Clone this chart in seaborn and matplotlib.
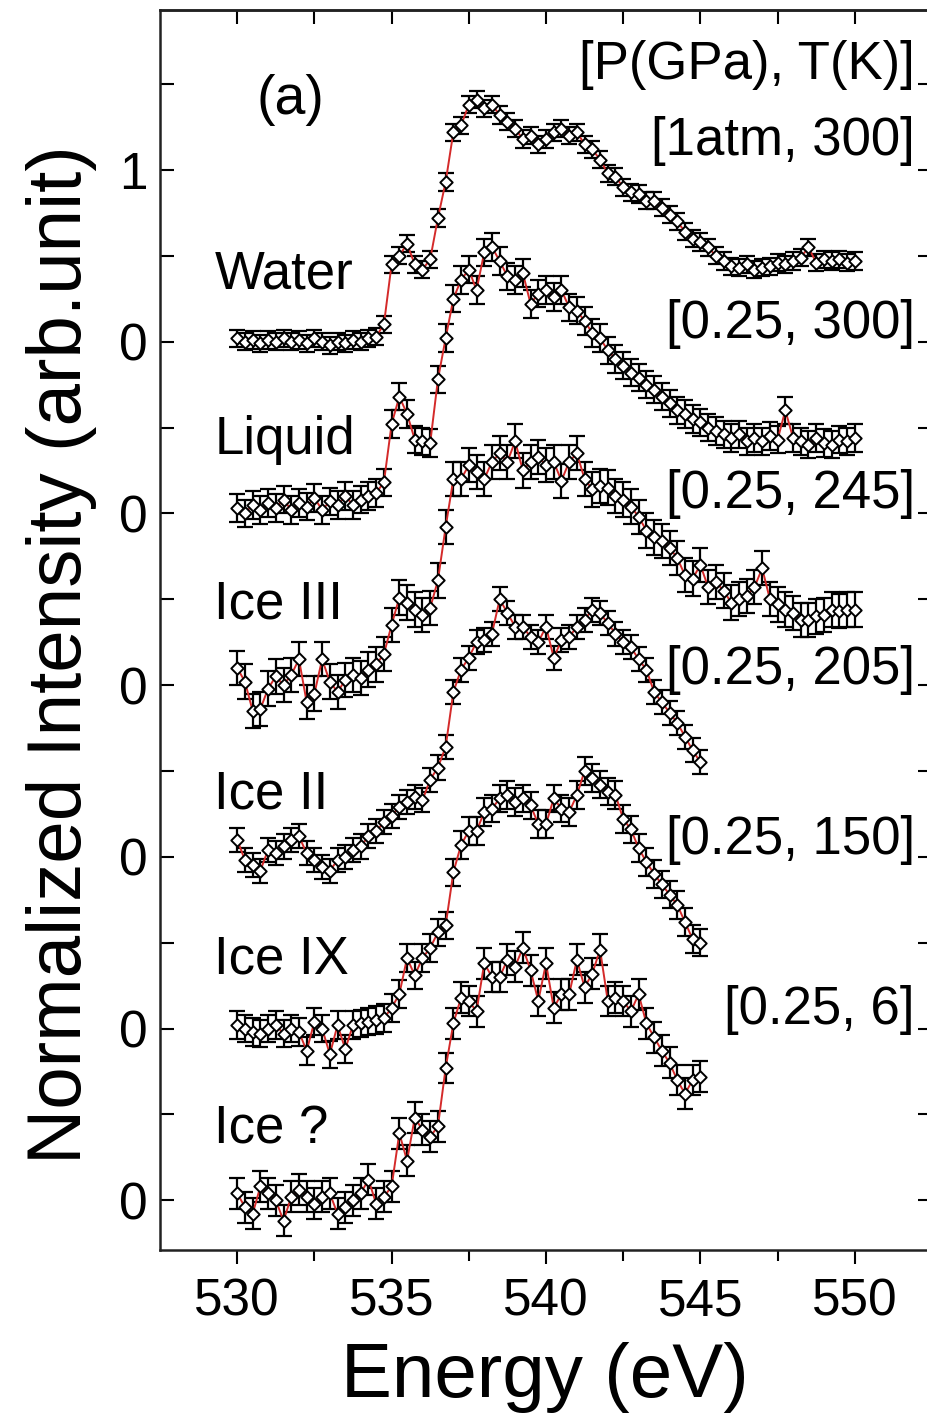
import numpy as np
import pandas as pd
import seaborn as sns
import matplotlib.pyplot as plt

# O K-edge spectra, 0.25 eV steps
energy_long = np.arange(530, 550.01, 0.25)
energy_short = np.arange(530, 545.01, 0.25)

water = [0.02, 0.00, 0.01, -0.01, 0.01, 0.00, 0.02, 0.00, 0.01, -0.01,
         0.02, 0.00, -0.02, 0.00, -0.01, 0.01, 0.00, 0.02, 0.03, 0.10,
         0.45, 0.50, 0.57, 0.45, 0.42, 0.48, 0.72, 0.93, 1.22, 1.26,
         1.38, 1.41, 1.36, 1.38, 1.32, 1.28, 1.24, 1.18, 1.20, 1.15,
         1.18, 1.22, 1.24, 1.20, 1.22, 1.15, 1.12, 1.06, 0.98, 0.96,
         0.90, 0.87, 0.86, 0.82, 0.82, 0.78, 0.74, 0.70, 0.64, 0.60,
         0.58, 0.55, 0.50, 0.47, 0.44, 0.43, 0.45, 0.42, 0.43, 0.44,
         0.46, 0.45, 0.47, 0.49, 0.55, 0.46, 0.48, 0.47, 0.48, 0.46,
         0.47]

liquid = [0.03, 0.00, 0.05, 0.02, 0.06, 0.03, 0.08, 0.02, 0.06, 0.04,
          0.09, 0.02, 0.07, 0.05, 0.10, 0.05, 0.08, 0.10, 0.12, 0.18,
          0.52, 0.68, 0.58, 0.43, 0.42, 0.41, 0.78, 1.02, 1.25, 1.36,
          1.42, 1.30, 1.52, 1.55, 1.47, 1.38, 1.36, 1.40, 1.22, 1.28,
          1.30, 1.26, 1.30, 1.20, 1.18, 1.12, 1.05, 1.02, 0.95, 0.90,
          0.86, 0.82, 0.79, 0.75, 0.72, 0.68, 0.64, 0.60, 0.58, 0.55,
          0.53, 0.50, 0.48, 0.46, 0.44, 0.46, 0.42, 0.44, 0.42, 0.45,
          0.43, 0.60, 0.44, 0.42, 0.40, 0.44, 0.41, 0.40, 0.43, 0.42,
          0.44]

ice_iii = [0.10, 0.02, -0.15, -0.14, -0.02, 0.05, 0.00, 0.06, 0.15, -0.10,
           -0.05, 0.15, 0.02, -0.04, 0.03, 0.06, 0.04, 0.09, 0.12, 0.18,
           0.35, 0.51, 0.48, 0.44, 0.41, 0.45, 0.61, 0.92, 1.20, 1.20,
           1.28, 1.24, 1.20, 1.30, 1.35, 1.30, 1.42, 1.25, 1.30, 1.33,
           1.28, 1.30, 1.19, 1.30, 1.35, 1.20, 1.14, 1.16, 1.15, 1.10,
           1.08, 1.04, 0.98, 0.90, 0.86, 0.84, 0.80, 0.74, 0.64, 0.62,
           0.70, 0.57, 0.60, 0.55, 0.48, 0.50, 0.52, 0.57, 0.68, 0.50,
           0.47, 0.44, 0.42, 0.38, 0.38, 0.40, 0.41, 0.44, 0.43, 0.44,
           0.44]

ice_ii = [0.10, -0.02, -0.05, -0.08, 0.04, 0.02, 0.06, 0.10, 0.12, 0.02,
          -0.02, -0.06, -0.08, -0.02, 0.00, 0.04, 0.06, 0.12, 0.15, 0.20,
          0.24, 0.29, 0.32, 0.35, 0.33, 0.45, 0.52, 0.64, 0.96, 1.09,
          1.16, 1.25, 1.26, 1.30, 1.50, 1.42, 1.34, 1.34, 1.28, 1.25,
          1.34, 1.16, 1.26, 1.28, 1.34, 1.38, 1.44, 1.42, 1.36, 1.30,
          1.25, 1.22, 1.15, 1.09, 0.96, 0.90, 0.84, 0.78, 0.70, 0.62,
          0.55]

ice_ix = [0.02, 0.00, -0.02, -0.03, 0.00, 0.02, -0.03, 0.00, -0.02, -0.13,
          0.04, 0.00, -0.15, 0.02, -0.12, 0.02, 0.03, 0.04, 0.05, 0.06,
          0.12, 0.20, 0.41, 0.31, 0.41, 0.47, 0.56, 0.60, 0.91, 1.07,
          1.15, 1.15, 1.26, 1.28, 1.34, 1.36, 1.32, 1.34, 1.30, 1.19,
          1.19, 1.34, 1.28, 1.26, 1.36, 1.50, 1.46, 1.42, 1.38, 1.36,
          1.22, 1.16, 1.05, 0.97, 0.90, 0.84, 0.78, 0.72, 0.62, 0.52,
          0.50]

ice_unknown = [0.04, -0.04, -0.08, 0.08, 0.04, 0.00, -0.12, 0.02, 0.06, 0.02,
               -0.02, 0.02, 0.04, -0.08, -0.04, 0.00, 0.04, 0.12, -0.02, 0.02,
               0.08, 0.39, 0.23, 0.48, 0.41, 0.37, 0.43, 0.77, 1.03, 1.18,
               1.16, 1.10, 1.38, 1.30, 1.30, 1.40, 1.36, 1.47, 1.34, 1.16,
               1.38, 1.12, 1.20, 1.20, 1.40, 1.24, 1.32, 1.46, 1.16, 1.18,
               1.16, 1.10, 1.20, 1.03, 0.95, 0.87, 0.80, 0.70, 0.62, 0.70,
               0.72]

samples = ["Ice ?", "Ice IX", "Ice II", "Ice III", "Liquid", "Water"]
conditions = ["[0.25, 6]", "[0.25, 150]", "[0.25, 205]", "[0.25, 245]",
              "[0.25, 300]", "[1atm, 300]"]
spectra = [ice_unknown, ice_ix, ice_ii, ice_iii, liquid, water]
errors = [0.09, 0.08, 0.07, 0.10, 0.08, 0.05]
offsets = [0, 1, 2, 3, 4, 5]

frames = []
for name, spec, off, err in zip(samples, spectra, offsets, errors):
    e = energy_long if len(spec) == len(energy_long) else energy_short
    frames.append(pd.DataFrame({"Energy": e, "Intensity": np.array(spec) + off,
                                "err": err, "sample": name}))
df = pd.concat(frames, ignore_index=True)

sns.set_theme(style="ticks")
plt.rcParams["font.family"] = ["Liberation Sans", "DejaVu Sans"]
plt.rcParams["text.color"] = "black"
plt.rcParams["axes.labelcolor"] = "black"

fig = plt.figure(figsize=(9.27, 14.25), dpi=100)
ax = fig.add_axes([0.1726, 0.1228, 0.8328, 0.870])

# error bars, then red line, then open diamonds on top
for name, d in df.groupby("sample", sort=False):
    ax.errorbar(d["Energy"], d["Intensity"], yerr=d["err"], fmt="none",
                ecolor="black", elinewidth=1.6, capsize=5.5, capthick=1.6, zorder=2)
sns.lineplot(data=df, x="Energy", y="Intensity", units="sample", estimator=None,
             color="#d42a2a", lw=1.4, sort=False, legend=False, ax=ax, zorder=3)
sns.scatterplot(data=df, x="Energy", y="Intensity", marker="D", s=40,
                facecolor="white", edgecolor="black", linewidth=1.4,
                legend=False, ax=ax, zorder=4)

ax.set_xlim(527.5, 552.5)
ax.set_ylim(-0.29, 6.93)

# y ticks every 0.5, labels only at baselines
yt = np.arange(0, 7.0, 0.5)
ylab = []
for v in yt:
    if v == 6:
        ylab.append("1")
    elif v == int(v):
        ylab.append("0")
    else:
        ylab.append("")
ax.set_yticks(yt)
ax.set_yticklabels(ylab)
ax.tick_params(axis="y", direction="in", length=10, width=1.5, labelsize=37,
               pad=9, left=True, right=True, colors="black")

ax.set_xticks([530, 535, 540, 545, 550])
ax.set_xticks([532.5, 537.5, 542.5, 547.5], minor=True)
ax.tick_params(axis="x", which="major", direction="out", length=10, width=1.5,
               labelsize=37, pad=10, colors="black")
ax.tick_params(axis="x", which="minor", direction="out", length=8, width=1.5,
               colors="black")

top = ax.secondary_xaxis("top")
top.set_xticks([530, 532.5, 535, 537.5, 540, 542.5, 545, 547.5, 550])
top.tick_params(direction="in", length=10, width=1.5, labeltop=False, colors="black")
top.spines["top"].set_linewidth(1.8)
top.spines["top"].set_color("#222")

for sp in ax.spines.values():
    sp.set_linewidth(1.8)
    sp.set_color("#222")
    sp.set_visible(True)

ax.set_xlabel("Energy (eV)", fontsize=55)
ax.set_ylabel("Normalized Intensity (arb.unit)", fontsize=55)
ax.xaxis.set_label_coords(0.499, -0.074)
ax.yaxis.set_label_coords(-0.082, 0.48)

label_y = [0.41, 1.40, 2.36, 3.47, 4.43, 5.39]
cond_y = [1.11, 2.10, 3.09, 4.11, 5.10, 6.17]
for name, ly, cond, cy in zip(samples, label_y, conditions, cond_y):
    ax.text(529.26, ly, name, fontsize=38, ha="left", va="center")
    ax.text(551.94, cy, cond, fontsize=38, ha="right", va="center")
ax.text(551.94, 6.61, "[P(GPa), T(K)]", fontsize=38, ha="right", va="center")
ax.text(531.74, 6.41, "(a)", fontsize=40, ha="center", va="center")

fig.savefig("out.png", dpi=100)
